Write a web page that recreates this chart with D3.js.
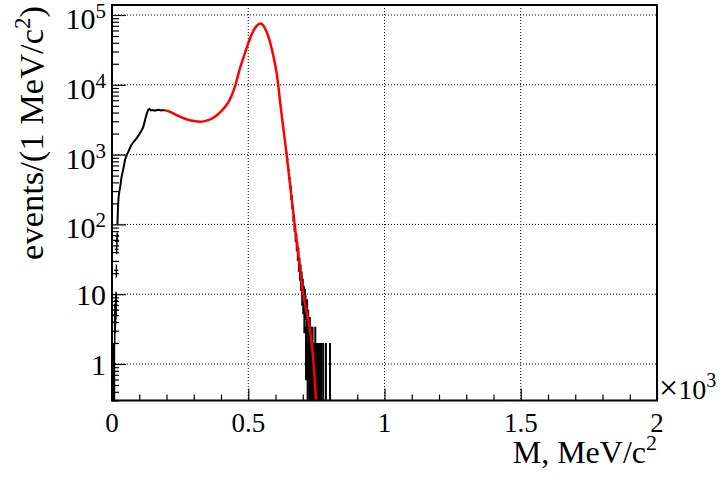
<!DOCTYPE html>
<html>
<head>
<meta charset="utf-8">
<script src="https://cdnjs.cloudflare.com/ajax/libs/d3/7.8.5/d3.min.js"></script>
<style>
body { margin: 0; background: #fff; }
text { font-family: "Liberation Serif", "Times New Roman", serif; fill: #000; }
</style>
</head>
<body>
<svg id="chart" width="723" height="480"></svg>
<script>
// axis ticks
var xTicks = [0, 500, 1000, 1500, 2000];
var xTickLabels = ["0", "0.5", "1", "1.5", "2"];
var yTicks = [1, 10, 100, 1000, 10000, 100000];
var yTickBase = ["1", "10", "10", "10", "10", "10"];
var yTickExp = ["", "", "2", "3", "4", "5"];

// data: low mass bins (M in MeV, counts)
var lowM = [1, 2, 3, 4, 5, 6, 7, 8, 9, 10, 11, 12, 13, 14, 15, 16, 17, 18, 19];
var lowN = [1, 1, 1, 1, 1, 1, 1, 1, 1, 4, 5, 5, 6, 7, 8, 22, 44, 57, 68];

// data: rising part drawn as a line
var bodyM = [20, 22, 24, 27, 30, 35, 40, 48, 55, 60, 70, 78, 90, 100, 108, 115, 121, 127, 133, 137, 143, 150, 158, 165, 172, 180, 187, 194];
var bodyN = [100, 180, 240, 300, 340, 480, 580, 850, 1000, 1100, 1350, 1500, 1700, 1950, 2200, 2500, 3100, 3800, 4400, 4500, 4300, 4350, 4250, 4350, 4400, 4300, 4350, 4300];

// data: high mass tail bins
var tailM = [640, 642, 644, 646, 648, 650, 652, 654, 656, 658, 660, 662, 664, 666, 668, 670, 672, 674, 676, 678, 680, 682, 684, 686, 688, 690, 692, 694, 696, 698, 700, 702, 704, 706, 708, 710, 712, 714, 716, 718, 720, 722, 724, 726, 728, 730, 732, 734, 736, 738, 740, 743, 746, 750, 754, 758, 763, 768, 775, 785, 800];
var tailN = [1050, 900, 860, 640, 600, 470, 450, 350, 330, 240, 245, 180, 170, 120, 125, 88, 90, 64, 66, 48, 50, 36, 40, 26, 28, 20, 22, 15, 17, 10, 13, 8, 10, 5, 9, 7, 2, 5, 6, 1, 4, 2, 1, 3, 1, 2, 1, 1, 2, 1, 1, 1, 2, 1, 1, 1, 1, 1, 1, 1, 1];

// fit curve
var fitM = [194, 210, 240, 270, 300, 325, 350, 380, 410, 430, 450, 470, 490, 510, 530, 546, 560, 575, 590, 605, 620, 640, 670, 700, 740, 750];
var fitN = [4300, 4150, 3630, 3240, 3020, 2950, 3090, 3550, 4570, 5890, 9120, 17400, 30200, 50100, 69200, 75300, 66100, 47900, 28200, 14100, 4470, 1070, 100, 11.2, 1, 0.25];

main();

function main() {
	var svg = d3.select('#chart');
	var left = 112, right = 657, top = 5, bottom = 400.5;

	var x = d3.scaleLinear().domain([0, 2000]).range([left, right]);
	var y = d3.scaleLog().domain([0.3, 1.39e5]).range([bottom, top]);

	svg.append('defs').append('clipPath').attr('id', 'plotclip')
		.append('rect')
		.attr('x', left).attr('y', top)
		.attr('width', right - left).attr('height', bottom - top);

	// dotted grid
	var grid = svg.append('g').attr('stroke', '#000').attr('stroke-width', 1).attr('stroke-dasharray', '1,2');
	grid.selectAll('.gx').data(xTicks.slice(1, -1)).enter().append('line')
		.attr('x1', function(d) { return x(d); })
		.attr('x2', function(d) { return x(d); })
		.attr('y1', top).attr('y2', bottom);
	grid.selectAll('.gy').data(yTicks).enter().append('line')
		.attr('x1', left).attr('x2', right)
		.attr('y1', function(d) { return y(d); })
		.attr('y2', function(d) { return y(d); });

	// minor tick values
	var xMinor = d3.range(0, 2001, 100).filter(function(v) { return v % 500 != 0; });
	var yMinor = [];
	[0.1, 1, 10, 100, 1000, 10000, 100000].forEach(function(dec) {
		for (var k = 2; k <= 9; k++) {
			var v = k * dec;
			if (v >= 0.3 && v <= 1.39e5) yMinor.push(v);
		}
	});

	// ticks pointing inside the frame
	var gx = svg.append('g').attr('transform', 'translate(0,' + bottom + ')');
	gx.append('g').call(d3.axisBottom(x).tickValues(xMinor).tickSize(-6).tickFormat(''));
	gx.append('g').call(d3.axisBottom(x).tickValues(xTicks).tickSize(-12).tickFormat(''));
	var gy = svg.append('g').attr('transform', 'translate(' + left + ',0)');
	gy.append('g').call(d3.axisLeft(y).tickValues(yMinor).tickSize(-7).tickFormat(''));
	gy.append('g').call(d3.axisLeft(y).tickValues(yTicks).tickSize(-14).tickFormat(''));
	svg.selectAll('.domain').remove();
	svg.selectAll('.tick line').attr('stroke', '#000').attr('stroke-width', 1.2);

	// fit line (red)
	var fitLine = d3.line()
		.x(function(d, i) { return x(fitM[i]); })
		.y(function(d) { return y(d); })
		.curve(d3.curveMonotoneX);

	// data (black)
	var plot = svg.append('g').attr('clip-path', 'url(#plotclip)');

	var bodyLine = d3.line()
		.x(function(d, i) { return x(bodyM[i]); })
		.y(function(d) { return y(d); });
	plot.append('path').datum(bodyN)
		.attr('d', bodyLine)
		.attr('fill', 'none').attr('stroke', '#000').attr('stroke-width', 2);

	function errLow(n) {
		var lo = n - Math.sqrt(n);
		return lo > 0.3 ? y(lo) : bottom;
	}

	plot.selectAll('.lowbar').data(lowN).enter().append('line')
		.attr('x1', function(d, i) { return x(lowM[i]); })
		.attr('x2', function(d, i) { return x(lowM[i]); })
		.attr('y1', function(d) { return errLow(d); })
		.attr('y2', function(d) { return y(d + Math.sqrt(d)); })
		.attr('stroke', '#000').attr('stroke-width', 1.5);
	plot.selectAll('.lowtick').data(lowN).enter().append('line')
		.attr('x1', function(d, i) { return x(lowM[i]) - 2; })
		.attr('x2', function(d, i) { return x(lowM[i]) + 2; })
		.attr('y1', function(d) { return y(d); })
		.attr('y2', function(d) { return y(d); })
		.attr('stroke', '#000').attr('stroke-width', 1.2);

	plot.selectAll('.tailbar').data(tailN).enter().append('line')
		.attr('x1', function(d, i) { return x(tailM[i]); })
		.attr('x2', function(d, i) { return x(tailM[i]); })
		.attr('y1', function(d) { return errLow(d); })
		.attr('y2', function(d) { return y(d + Math.sqrt(d)); })
		.attr('stroke', '#000').attr('stroke-width', 2);

	plot.append('path').datum(fitN)
		.attr('d', fitLine)
		.attr('fill', 'none').attr('stroke', '#ff0000').attr('stroke-width', 2.5);

	// frame
	svg.append('rect')
		.attr('x', left).attr('y', top)
		.attr('width', right - left).attr('height', bottom - top)
		.attr('fill', 'none').attr('stroke', '#000').attr('stroke-width', 2);

	// x labels
	svg.selectAll('.xl').data(xTicks).enter().append('text')
		.attr('x', function(d) { return x(d); })
		.attr('y', 432)
		.attr('text-anchor', 'middle')
		.style('font-size', '27px')
		.text(function(d, i) { return xTickLabels[i]; });

	// y labels
	var yl = svg.selectAll('.yl').data(yTicks).enter().append('text')
		.attr('x', 106)
		.attr('y', function(d, i) { return y(d) + (yTickExp[i] ? 14 : 11); })
		.attr('text-anchor', 'end')
		.style('font-size', '30px');
	yl.append('tspan').text(function(d, i) { return yTickBase[i]; });
	yl.append('tspan')
		.attr('dy', function(d, i) { return yTickExp[i] ? -11 : 0; })
		.style('font-size', '21px')
		.text(function(d, i) { return yTickExp[i]; });

	// x10^3 factor
	var fac = svg.append('text').attr('x', 659).attr('y', 399).style('font-size', '28px');
	fac.append('tspan').style('font-size', '34px').text('\u00d7');
	fac.append('tspan').text('10');
	fac.append('tspan').attr('dy', -12).style('font-size', '20px').text('3');

	// axis titles
	var xt = svg.append('text').attr('x', 657).attr('y', 463)
		.attr('text-anchor', 'end').style('font-size', '32px');
	xt.append('tspan').text('M, MeV/c');
	xt.append('tspan').attr('dy', -13).style('font-size', '22px').text('2');

	var yt = svg.append('text')
		.attr('transform', 'translate(43,6) rotate(-90)')
		.attr('text-anchor', 'end').style('font-size', '34.5px');
	yt.append('tspan').text('events/(1 MeV/c');
	yt.append('tspan').attr('dy', -13).style('font-size', '23px').text('2');
	yt.append('tspan').attr('dy', 13).text(')');
}
</script>
</body>
</html>
